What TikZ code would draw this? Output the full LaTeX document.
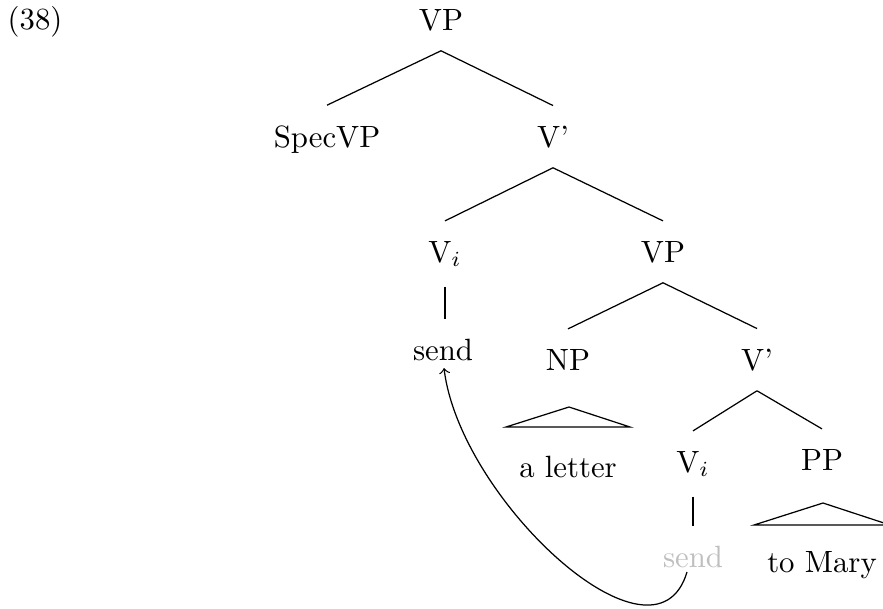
\documentclass[tikz,border=0pt]{standalone}
\usepackage{amsmath}
\usepackage{tikz}

\begin{document}
\begin{tikzpicture}[x=0.325pt, y=-0.325pt,
        word/.style={anchor=base, outer ysep=3.2pt},
        trace/.style={word, text=lightgray},
        move/.style={->}]
        \useasboundingbox (0,0) rectangle (883,608);
        % example number
        \node[word] (ex) at (35,29) {(38)};

        % define nodes
        % top VP
        \node[word] (vp)    at (441,30)  {VP};
        \node[word] (spec)  at (327,147) {SpecVP};
        \node[word] (vbar)  at (553,147) {V'};
        % V head and lower VP
        \node[word] (vi)    at (445,262) {V$_i$};
        \node[word] (vpl)   at (663,262) {VP};
        \node[word] (send)  at (443,360) {send};
        \node[word] (np)    at (568,370) {NP};
        \node[word] (vbarl) at (757,370) {V'};
        \node[word] (letter) at (568,477) {a letter};
        % lower V' daughters
        \node[word] (vil)   at (693,472) {V$_i$};
        \node[word] (pp)    at (822,470) {PP};
        % trace of the moved verb
        \node[trace] (sendtr) at (693,567) {send};
        \node[word] (mary)  at (822,572) {to Mary};

        % define branches
        \path[draw]
        (vp.south) edge (spec.north) % VP to SpecVP
                   edge (vbar.north) % VP to V'
        (vbar.south) edge (vi.north)
                     edge (vpl.north)
        (vi.south) edge (vi.south |- send.north) % V_i to send
        (vpl.south) edge (np.north)
                    edge (vbarl.north)
        (vbarl.south) edge (vil.north)
                      edge (pp.north)
        (vil.south) edge (vil.south |- sendtr.north); % V_i to trace

        % triangles over phrases
        \draw ([shift={(1,37)}]np.base) -- ([shift={(-62,-50)}]letter.base)
              -- ([shift={(62,-50)}]letter.base) -- cycle;
        \draw ([shift={(1,33)}]pp.base) -- ([shift={(-68,-47)}]mary.base)
              -- ([shift={(68,-47)}]mary.base) -- cycle;

        % movement of the verb
        \draw[move] ([shift={(-6,5)}]sendtr.base)
              .. controls +(-32,108) and +(16,132) .. ([shift={(1,8)}]send.base);
    \end{tikzpicture}
\end{document}
